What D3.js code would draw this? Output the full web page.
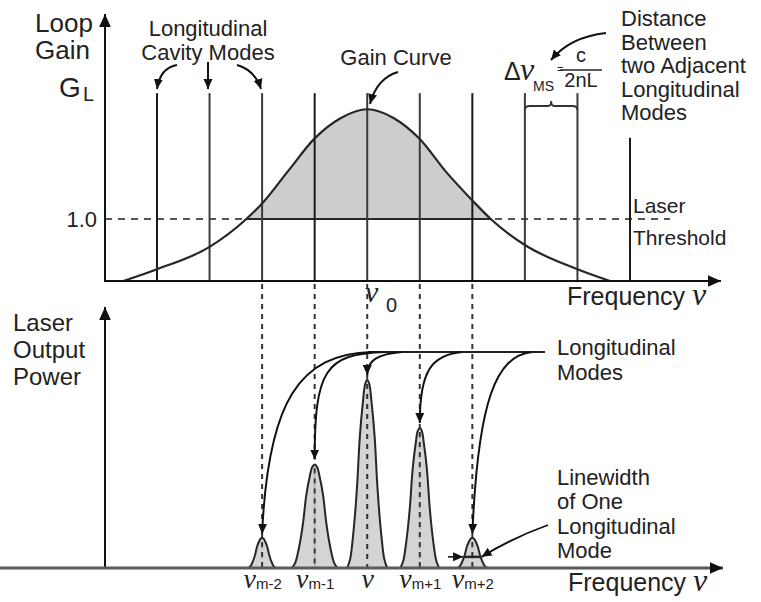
<!DOCTYPE html>
<html><head><meta charset="utf-8">
<script src="https://cdn.jsdelivr.net/npm/d3@7"></script>
<style>
body{margin:0;background:#fff}
text{font-family:"Liberation Sans",Arial,Helvetica,sans-serif;fill:#222}
.nu{font-family:"Liberation Serif","DejaVu Serif",serif;font-style:italic}
</style>
</head><body>
<svg id="c" width="761" height="602"></svg>
<script>
// ---------- data ----------
const modeIndex   = [-4, -3, -2, -1, 0, 1, 2, 3, 4, 5];
const modeLineTop = [3.03, 3.03, 3.03, 3.03, 3.03, 3.03, 3.03, 3.03, 3.03, 2.31];
const gainFreq  = [-4.64, -4, -3, -2.3, -2, -1.5, -1, -0.5, 0, 0.5, 1, 1.5, 2, 2.35, 3, 4, 4.62];
const gainValue = [0, 0.19, 0.55, 1.0, 1.25, 1.78, 2.3, 2.63, 2.77, 2.63, 2.29, 1.76, 1.3, 1.0, 0.58, 0.19, 0];
const thresholdGain = 1.0;
const lasingModes  = [-2, -1, 0, 1, 2];
const lasingSubs   = ["m-2", "m-1", "", "m+1", "m+2"];
const lasingPower  = [0.16, 0.55, 1.0, 0.745, 0.16];
const lasingWidth  = [0.53, 0.87, 0.76, 0.74, 0.57];
const profileU = [-1, -0.85, -0.73, -0.6, -0.5, -0.37, -0.22, -0.1, 0, 0.1, 0.22, 0.37, 0.5, 0.6, 0.73, 0.85, 1];
const profileH = [0, 0.05, 0.15, 0.3, 0.45, 0.7, 0.88, 0.98, 1, 0.98, 0.88, 0.7, 0.45, 0.3, 0.15, 0.05, 0];
const linewidthLevel = 0.37;

// ---------- scales ----------
const x  = d3.scaleLinear().domain([-4, 5]).range([157, 630]);
const yG = d3.scaleLinear().domain([0, 1]).range([281, 219]);
const yP = d3.scaleLinear().domain([0, 1]).range([568, 380]);

const svg = d3.select("#c");
const defs = svg.append("defs");
function marker(id, w) {
  defs.append("marker").attr("id", id).attr("viewBox", "0 0 10 10")
    .attr("refX", 10).attr("refY", 5).attr("markerWidth", w).attr("markerHeight", w)
    .attr("markerUnits", "userSpaceOnUse").attr("orient", "auto")
    .append("path").attr("d", "M0,0.5L10,5L0,9.5Z").attr("fill", "#111");
}
marker("ah", 10); marker("axh", 13);

const ink = "#262626";

// ---------- top panel ----------
defs.append("clipPath").attr("id", "above").append("rect")
  .attr("x", 0).attr("y", 0).attr("width", 761).attr("height", yG(thresholdGain));
const gainPts = gainFreq.map((f, i) => [f, gainValue[i]]);
svg.append("path").datum(gainPts).attr("clip-path", "url(#above)")
  .attr("d", d3.area().x(d => x(d[0])).y0(yG(0)).y1(d => yG(d[1])).curve(d3.curveMonotoneX))
  .attr("fill", "#cdcdcd");

svg.append("line").attr("x1", 105).attr("x2", 670)
  .attr("y1", yG(thresholdGain)).attr("y2", yG(thresholdGain))
  .attr("stroke", "#555").attr("stroke-width", 2).attr("stroke-dasharray", "7,6");
const cross = gainPts.filter(d => d[1] === thresholdGain);
svg.append("line").attr("x1", x(cross[0][0])).attr("x2", x(cross[cross.length - 1][0]))
  .attr("y1", yG(thresholdGain)).attr("y2", yG(thresholdGain))
  .attr("stroke", ink).attr("stroke-width", 2);

svg.selectAll(".mode").data(modeIndex).enter().append("line")
  .attr("x1", d => x(d)).attr("x2", d => x(d))
  .attr("y1", yG(0)).attr("y2", (d, i) => yG(modeLineTop[i]))
  .attr("stroke", (d, i) => (i % 3 === 0 ? "#1a1a1a" : "#3a3a3a")).attr("stroke-width", 2);

svg.append("path").datum(gainPts)
  .attr("d", d3.line().x(d => x(d[0])).y(d => yG(d[1])).curve(d3.curveMonotoneX))
  .attr("fill", "none").attr("stroke", ink).attr("stroke-width", 2.2);

svg.append("line").attr("x1", 105).attr("y1", yG(0)).attr("x2", 105).attr("y2", 14)
  .attr("stroke", "#111").attr("stroke-width", 2).attr("marker-end", "url(#axh)");
svg.append("line").attr("x1", 104).attr("y1", yG(0)).attr("x2", 721).attr("y2", yG(0))
  .attr("stroke", "#111").attr("stroke-width", 2).attr("marker-end", "url(#axh)");
const ax = svg.append("g").attr("transform", "translate(105,0)")
  .call(d3.axisLeft(yG).tickValues([thresholdGain]).tickFormat(d3.format(".1f")).tickSize(0).tickPadding(8));
ax.select(".domain").remove();
ax.selectAll("text").attr("font-size", 22).attr("font-family", "Liberation Sans, Arial, sans-serif").attr("fill", "#222");

svg.selectAll(".proj").data(lasingModes).enter().append("line")
  .attr("x1", d => x(d)).attr("x2", d => x(d))
  .attr("y1", yG(0) + 3).attr("y2", yP(0))
  .attr("stroke", "#333").attr("stroke-width", 2).attr("stroke-dasharray", "5,5");

// ---------- bottom panel ----------
const peakLine = d3.line().x(d => d[0]).y(d => d[1]).curve(d3.curveCatmullRom.alpha(0.5));
lasingModes.forEach((m, i) => {
  const pts = profileU.map((u, k) => [x(m + u * lasingWidth[i] / 2), yP(profileH[k] * lasingPower[i])]);
  svg.append("path").attr("d", peakLine(pts) + "Z")
    .attr("fill", "#cdcdcd").attr("fill-opacity", 0.85)
    .attr("stroke", ink).attr("stroke-width", 2);
});
svg.selectAll(".proj2").data(lasingModes).enter().append("line")
  .attr("x1", d => x(d)).attr("x2", d => x(d))
  .attr("y1", (d, i) => yP(lasingPower[i]) + 4).attr("y2", yP(0))
  .attr("stroke", "#333").attr("stroke-width", 2).attr("stroke-dasharray", "5,5");

{
  const i = lasingModes.length - 1, m = lasingModes[i];
  let uL = 0;
  for (let k = 0; k < profileU.length - 1; k++) {
    if (profileU[k] < 0 && profileH[k] <= linewidthLevel && profileH[k + 1] >= linewidthLevel) {
      const t = (linewidthLevel - profileH[k]) / (profileH[k + 1] - profileH[k]);
      uL = profileU[k] + t * (profileU[k + 1] - profileU[k]);
    }
  }
  const yy = yP(linewidthLevel * lasingPower[i]);
  const xl = x(m + uL * lasingWidth[i] / 2), xr = x(m - uL * lasingWidth[i] / 2);
  svg.append("line").attr("x1", xl).attr("x2", xr)
    .attr("y1", yy).attr("y2", yy).attr("stroke", ink).attr("stroke-width", 2.5);
  svg.append("line").attr("x1", xl - 16).attr("x2", xl - 1)
    .attr("y1", yy).attr("y2", yy).attr("stroke", "#111").attr("stroke-width", 1.6).attr("marker-end", "url(#ah)");
  svg.append("path").attr("d", `M548,525 Q512,538 ${xr + 1},${yy}`)
    .attr("fill", "none").attr("stroke", "#111").attr("stroke-width", 1.8).attr("marker-end", "url(#ah)");
}

svg.append("line").attr("x1", 105).attr("y1", yP(0)).attr("x2", 105).attr("y2", 307)
  .attr("stroke", "#111").attr("stroke-width", 2).attr("marker-end", "url(#axh)");
svg.append("line").attr("x1", 0).attr("y1", yP(0)).attr("x2", 723).attr("y2", yP(0))
  .attr("stroke", "#5a5a5a").attr("stroke-width", 3).attr("marker-end", "url(#axh)");

const bx = svg.append("g").attr("transform", `translate(0,${yP(0)})`)
  .call(d3.axisBottom(x).tickValues(lasingModes).tickSize(0).tickPadding(0));
bx.select(".domain").remove();
bx.selectAll(".tick text").attr("dy", null).attr("y", 20).attr("text-anchor", "middle")
  .text(null).each(function (d, i) {
    const t = d3.select(this);
    t.append("tspan").attr("class", "nu").attr("font-size", 28).text("ν");
    if (lasingSubs[i]) t.append("tspan").attr("font-size", 15).attr("dy", 1).text(lasingSubs[i]);
  });

const topY = 352;
svg.append("line").attr("x1", 368).attr("x2", 545).attr("y1", topY).attr("y2", topY)
  .attr("stroke", "#222").attr("stroke-width", 2);
const arrowPaths = [
  `M372,${topY} C300,354 268,400 ${x(-2)},${yP(lasingPower[0]) - 4}`,
  `M385,${topY} C325,354 ${x(-1)},370 ${x(-1)},${yP(lasingPower[1]) - 5}`,
  `M402,${topY} C378,354 ${x(0)},360 ${x(0)},${yP(lasingPower[2]) - 5}`,
  `M462,${topY} C432,355 ${x(1)},370 ${x(1)},${yP(lasingPower[3]) - 5}`,
  `M532,${topY} C496,356 478,400 ${x(2)},${yP(lasingPower[4]) - 4}`
];
svg.selectAll(".la").data(arrowPaths).enter().append("path").attr("d", d => d)
  .attr("fill", "none").attr("stroke", "#111").attr("stroke-width", 2).attr("marker-end", "url(#ah)");

// ---------- top annotations ----------
const ann = [
  "M177,65 Q160,68 157,89",
  "M208,62 L208,89",
  "M237,65 Q255,70 261,89",
  "M398,72 Q377,78 370,104",
  "M606,33 Q570,37 551,60"
];
svg.selectAll(".an").data(ann).enter().append("path").attr("d", d => d)
  .attr("fill", "none").attr("stroke", "#111").attr("stroke-width", 2).attr("marker-end", "url(#ah)");
svg.append("path").attr("d", `M${x(3)},110 Q${x(3)},106 ${x(3) + 5},106 L${x(3.5) - 3},106 Q${x(3.5)},106 ${x(3.5)},101 Q${x(3.5)},106 ${x(3.5) + 3},106 L${x(4) - 5},106 Q${x(4)},106 ${x(4)},110`)
  .attr("fill", "none").attr("stroke", "#333").attr("stroke-width", 1.8);

// ---------- text ----------
function txt(s, xx, yy, size, anchor, extra) {
  const t = svg.append("text").attr("x", xx).attr("y", yy).attr("font-size", size)
    .attr("text-anchor", anchor || "start").text(s);
  if (extra) extra(t);
  return t;
}
txt("Loop", 35, 32, 26);
txt("Gain", 35, 59, 26);
txt("G", 59, 97, 28);
txt("L", 83, 101, 20);
txt("Longitudinal", 208, 36, 22, "middle");
txt("Cavity Modes", 208, 60, 22, "middle");
txt("Gain Curve", 396, 65, 22, "middle");
["Distance", "Between", "two Adjacent", "Longitudinal", "Modes"].forEach((s, i) => txt(s, 621, 26 + i * 23.5, 22));
txt("Laser", 633, 213, 21);
txt("Threshold", 633, 245, 21);
txt("Δ", 504, 80, 25);
svg.append("text").attr("class", "nu").attr("x", 520).attr("y", 80).attr("font-size", 32).text("ν");
txt("MS", 533, 91, 14, "start", t => t.attr("fill", "#555"));
txt("=", 557, 73, 11, "start", t => t.attr("fill", "#666"));
txt("c", 581, 62, 20, "middle");
svg.append("line").attr("x1", 560).attr("x2", 602).attr("y1", 70).attr("y2", 70).attr("stroke", "#222").attr("stroke-width", 1.6);
txt("2nL", 581, 87, 20, "middle");
svg.append("text").attr("class", "nu").attr("x", 365).attr("y", 302).attr("font-size", 30).text("ν");
txt("0", 386, 312, 20);
[[305, 567], [591, 568]].forEach(([yy, xx]) => {
  const t = txt("Frequency ", xx, yy, 25);
  t.append("tspan").attr("class", "nu").attr("font-size", 32).text("ν");
});
txt("Laser", 13, 331, 24);
txt("Output", 13, 358, 24);
txt("Power", 13, 385, 24);
txt("Longitudinal", 557, 355, 22);
txt("Modes", 557, 380, 22);
["Linewidth", "of One", "Longitudinal", "Mode"].forEach((s, i) => txt(s, 557, 485 + i * 24.3, 22));
</script>
</body></html>
